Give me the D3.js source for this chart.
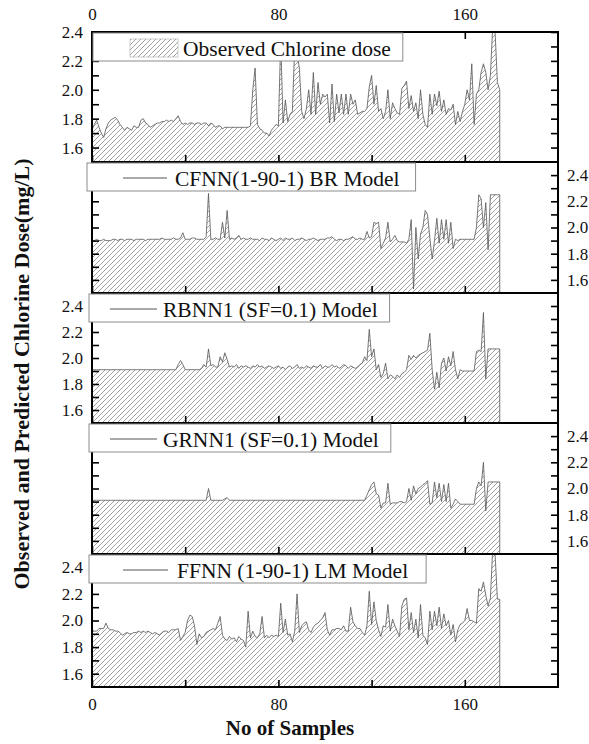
<!DOCTYPE html>
<html>
<head>
<meta charset="utf-8">
<script src="https://cdn.jsdelivr.net/npm/d3@7"></script>
<style>
  body { margin: 0; background: #fff; }
  svg { display: block; font-family: 'Liberation Serif', 'Times New Roman', serif; }
</style>
</head>
<body>
<svg id="chart" width="589" height="744"></svg>
<script>
// sample values, one per sample 0..175
const observed = [
  1.72,1.76,1.79,1.74,1.70,1.67,1.73,1.77,1.79,1.80,
  1.81,1.79,1.76,1.74,1.72,1.74,1.73,1.72,1.75,1.74,
  1.74,1.79,1.80,1.77,1.76,1.74,1.75,1.76,1.77,1.77,
  1.78,1.78,1.79,1.78,1.79,1.78,1.80,1.82,1.78,1.76,
  1.77,1.76,1.77,1.77,1.76,1.77,1.77,1.76,1.77,1.77,
  1.75,1.77,1.76,1.74,1.75,1.75,1.73,1.74,1.74,1.74,
  1.74,1.74,1.74,1.74,1.74,1.74,1.74,1.74,1.75,2.00,
  2.15,1.76,1.73,1.72,1.70,1.70,1.68,1.72,1.74,1.76,
  1.75,2.35,1.77,1.93,1.78,1.83,1.85,2.30,2.25,2.15,
  1.85,1.80,1.87,2.00,1.83,2.12,1.83,2.05,1.90,1.97,
  1.95,1.97,1.77,2.04,1.78,1.97,1.84,1.97,1.83,1.97,
  1.83,1.97,1.90,1.93,1.83,1.84,1.85,1.85,1.87,2.02,
  2.10,1.90,2.03,1.85,1.87,1.80,1.85,2.00,1.80,1.91,
  1.87,1.84,1.83,2.01,2.03,2.06,1.87,1.96,1.85,1.91,
  1.80,2.00,1.83,1.76,1.74,1.97,1.83,1.97,1.89,1.99,
  1.85,1.93,1.83,1.87,1.86,1.90,1.76,1.85,1.78,1.85,
  1.90,2.00,1.93,2.18,1.76,1.97,2.00,2.12,2.18,2.12,
  2.00,2.10,2.45,2.40,2.05,2.00
];
const cfnn = [
  1.90,1.90,1.91,1.90,1.90,1.91,1.90,1.90,1.90,1.91,
  1.91,1.90,1.91,1.91,1.90,1.91,1.91,1.91,1.90,1.91,
  1.91,1.91,1.91,1.90,1.91,1.91,1.91,1.91,1.91,1.91,
  1.92,1.91,1.91,1.91,1.91,1.92,1.91,1.91,1.92,1.96,
  1.91,1.91,1.91,1.92,1.92,1.91,1.91,1.91,1.91,1.93,
  2.26,1.91,1.91,1.92,1.91,1.91,2.04,1.92,2.13,1.91,
  1.92,1.91,1.92,1.94,1.91,1.92,1.91,1.91,1.92,1.91,
  1.91,1.91,1.90,1.92,1.91,1.91,1.90,1.92,1.91,1.90,
  1.91,1.92,1.90,1.92,1.91,1.91,1.92,1.90,1.91,1.91,
  1.92,1.91,1.90,1.91,1.91,1.92,1.91,1.90,1.91,1.91,
  1.91,1.92,1.92,1.93,1.91,1.90,1.91,1.91,1.90,1.91,
  1.91,1.92,1.93,1.91,1.91,1.92,1.91,1.91,1.97,1.92,
  1.93,2.04,2.03,2.04,1.84,1.88,1.92,2.04,1.89,1.91,
  1.94,1.90,1.89,1.89,1.89,1.88,1.91,2.06,1.53,2.00,
  1.76,1.95,2.00,2.13,2.10,1.92,1.76,1.90,2.07,1.88,
  2.06,1.91,2.06,1.88,2.04,1.84,1.91,1.90,1.91,1.91,
  1.91,1.91,1.91,1.91,1.91,2.00,2.25,2.22,2.00,2.19,
  1.83,2.25,2.25,2.25,2.25,2.25
];
const rbnn = [
  1.91,1.91,1.91,1.91,1.91,1.91,1.91,1.91,1.91,1.91,
  1.91,1.91,1.91,1.91,1.91,1.91,1.91,1.91,1.91,1.91,
  1.91,1.91,1.91,1.91,1.91,1.91,1.91,1.91,1.91,1.91,
  1.91,1.91,1.91,1.91,1.91,1.91,1.91,1.95,1.98,1.95,
  1.91,1.91,1.91,1.91,1.91,1.91,1.91,1.92,1.95,1.93,
  2.07,1.94,1.95,1.93,1.93,2.01,1.97,2.04,1.99,1.93,
  1.94,1.93,1.95,1.92,1.94,1.93,1.94,1.93,1.92,1.94,
  1.93,1.95,1.93,1.94,1.92,1.93,1.94,1.93,1.92,1.93,
  1.94,1.92,1.93,1.91,1.93,1.94,1.92,1.93,1.95,1.92,
  1.93,1.92,1.94,1.93,1.92,1.94,1.93,1.93,1.95,1.92,
  1.94,1.93,1.93,1.95,1.93,1.94,1.92,1.93,1.95,1.94,
  1.92,1.94,1.93,1.92,1.93,1.95,1.96,2.01,1.98,2.22,
  2.01,2.07,1.91,1.95,1.85,1.88,1.96,1.84,1.87,1.86,
  1.84,1.87,1.85,1.88,1.89,1.91,2.02,1.99,2.02,2.00,
  2.02,2.03,2.04,2.05,2.06,2.19,1.91,1.76,1.89,1.77,
  1.96,2.00,1.90,2.01,1.94,2.05,1.91,1.84,1.91,1.90,
  1.90,1.90,1.90,1.90,1.90,2.05,2.06,2.05,2.35,1.84,
  2.07,2.07,2.07,2.07,2.07,2.07
];
const grnn = [
  1.91,1.91,1.91,1.91,1.91,1.91,1.91,1.91,1.91,1.91,
  1.91,1.91,1.91,1.91,1.91,1.91,1.91,1.91,1.91,1.91,
  1.91,1.91,1.91,1.91,1.91,1.91,1.91,1.91,1.91,1.91,
  1.91,1.91,1.91,1.91,1.91,1.91,1.91,1.91,1.91,1.91,
  1.91,1.91,1.91,1.91,1.91,1.91,1.91,1.91,1.91,1.91,
  2.00,1.91,1.91,1.91,1.91,1.91,1.91,1.92,1.93,1.91,
  1.91,1.91,1.91,1.91,1.91,1.91,1.91,1.91,1.91,1.91,
  1.91,1.91,1.91,1.91,1.91,1.91,1.91,1.91,1.91,1.91,
  1.91,1.91,1.91,1.91,1.91,1.91,1.91,1.91,1.91,1.91,
  1.91,1.91,1.91,1.91,1.91,1.91,1.91,1.91,1.91,1.91,
  1.91,1.91,1.91,1.91,1.91,1.91,1.91,1.91,1.91,1.91,
  1.91,1.91,1.91,1.91,1.91,1.91,1.91,1.91,1.95,1.99,
  2.03,2.05,1.96,1.95,1.85,1.89,1.89,2.04,1.88,1.89,
  1.89,1.89,1.90,1.90,1.89,1.90,2.00,1.91,2.02,1.96,
  2.00,2.01,2.03,2.04,2.06,1.88,1.89,2.05,1.93,2.04,
  1.90,2.03,1.90,2.04,1.85,1.88,1.92,1.90,1.88,1.88,
  1.88,1.88,1.88,1.88,1.88,2.00,2.05,2.02,2.20,1.83,
  2.05,2.05,2.05,2.05,2.05,2.05
];
const ffnn = [
  1.93,1.92,1.92,1.94,1.94,1.94,1.98,1.94,1.93,1.93,
  1.92,1.92,1.91,1.89,1.90,1.91,1.90,1.90,1.91,1.91,
  1.92,1.91,1.92,1.91,1.92,1.91,1.90,1.91,1.90,1.89,
  1.91,1.92,1.92,1.91,1.93,1.93,1.93,1.94,1.85,1.88,
  1.91,2.00,2.04,2.03,1.96,1.82,1.90,1.87,1.88,1.91,
  1.92,1.93,1.94,1.93,1.98,2.03,1.89,1.86,1.85,1.88,
  1.86,1.87,1.84,1.88,1.86,1.85,1.80,2.07,1.87,1.92,
  1.88,1.87,1.90,2.03,1.87,1.89,1.87,1.89,1.88,1.89,
  1.88,2.13,1.91,2.01,1.89,1.90,1.84,1.92,2.20,1.91,
  1.96,1.98,1.99,1.93,1.91,1.95,1.97,1.98,2.00,2.02,
  2.06,1.93,1.89,1.93,1.93,1.94,1.94,1.93,1.96,1.92,
  1.92,2.10,1.99,1.96,1.94,1.94,1.91,1.89,1.96,2.22,
  1.97,2.14,2.00,1.93,1.88,1.96,1.95,2.12,1.92,2.01,
  1.96,1.92,1.88,2.11,2.16,2.17,1.93,2.06,1.91,2.01,
  1.87,2.12,1.89,1.87,1.82,2.07,1.93,2.07,1.96,2.10,
  1.94,2.05,1.96,2.00,1.89,1.97,1.84,1.93,1.97,1.98,
  2.00,2.09,2.00,2.00,1.99,1.98,2.24,2.22,2.29,2.19,
  2.11,2.17,2.55,2.50,2.16,2.16
];

const legendLabels = [
  'Observed Chlorine dose',
  'CFNN(1-90-1) BR Model',
  'RBNN1 (SF=0.1) Model',
  'GRNN1 (SF=0.1) Model',
  'FFNN (1-90-1) LM Model'
];
const yMaxes = [2.4, 2.5, 2.5, 2.5, 2.5];
const yTickValues = [1.6, 1.7, 1.8, 1.9, 2.0, 2.1, 2.2, 2.3, 2.4];
const yTickLabels = ['1.6', '1.8', '2.0', '2.2', '2.4'];
const xTickValues = [0, 40, 80, 120, 160];
const xTickLabels = [0, 80, 160];

const series = [observed, cfnn, rbnn, grnn, ffnn];

// layout
const panelEdges = [32, 162, 293, 423, 554, 687];
const labelSide = ['left', 'right', 'left', 'right', 'left'];
const boxX = [93, 87, 89, 89, 89];
const swatchX = [[130, 178], [123, 167], [110, 157], [110, 157], [123, 168]];
const textX = [183, 175, 163, 163, 177];
const boxPad = [12, 16, 12, 12, 18];

const svg = d3.select('#chart');
const x = d3.scaleLinear().domain([0, 200]).range([92, 558]);
const defs = svg.append('defs');

defs.append('pattern')
  .attr('id', 'hatch')
  .attr('patternUnits', 'userSpaceOnUse')
  .attr('width', 5)
  .attr('height', 5)
  .append('path')
  .attr('d', 'M-1,1 l2,-2 M0,5 l5,-5 M4,6 l2,-2')
  .attr('stroke', '#7a7a7a')
  .attr('stroke-width', 0.7);

const styleAxis = ($g) => {
  $g.select('.domain').remove();
  $g.selectAll('line').attr('stroke', '#000').attr('stroke-width', 1.6);
  $g.selectAll('text')
    .attr('font-family', "'Liberation Serif', 'Times New Roman', serif")
    .attr('font-size', 17)
    .attr('fill', '#111');
};

series.forEach((values, i) => {
  const top = panelEdges[i];
  const bottom = panelEdges[i + 1];
  const y = d3.scaleLinear().domain([1.5, yMaxes[i]]).range([bottom, top]);
  const $panel = svg.append('g').attr('class', 'panel');

  defs.append('clipPath').attr('id', 'clip' + i)
    .append('rect')
    .attr('x', x(0))
    .attr('y', top)
    .attr('width', x(200) - x(0))
    .attr('height', bottom - top);

  const area = d3.area()
    .x((d, j) => x(j))
    .y0(bottom)
    .y1((d) => y(d));

  $panel.append('path')
    .datum(values)
    .attr('clip-path', 'url(#clip' + i + ')')
    .attr('d', area)
    .attr('fill', 'url(#hatch)')
    .attr('stroke', '#555')
    .attr('stroke-width', 0.8);

  // y axes, ticks pointing inward on both sides
  const ticks = yTickValues.filter((v) => v <= yMaxes[i] + 1e-9);
  const fmt = (d) => yTickLabels.includes(d.toFixed(1)) ? d.toFixed(1) : '';
  const left = d3.axisLeft(y).tickValues(ticks).tickSize(-7).tickPadding(9)
    .tickFormat(labelSide[i] === 'left' ? fmt : () => '');
  const right = d3.axisRight(y).tickValues(ticks).tickSize(-7).tickPadding(9)
    .tickFormat(labelSide[i] === 'right' ? fmt : () => '');
  $panel.append('g').attr('transform', `translate(${x(0)},0)`).call(left).call(styleAxis);
  $panel.append('g').attr('transform', `translate(${x(200)},0)`).call(right).call(styleAxis);

  // x ticks along the bottom edge of each panel
  const bottomAxis = d3.axisBottom(x).tickValues(xTickValues).tickSize(-7).tickPadding(11)
    .tickFormat((d) => (i === 4 && xTickLabels.includes(d)) ? d : '');
  $panel.append('g').attr('transform', `translate(0,${bottom})`).call(bottomAxis).call(styleAxis);

  if (i === 0) {
    const topAxis = d3.axisTop(x).tickValues(xTickValues).tickSize(-7).tickPadding(12)
      .tickFormat((d) => xTickLabels.includes(d) ? d : '');
    $panel.append('g').attr('transform', `translate(0,${top})`).call(topAxis).call(styleAxis);
  }

  $panel.append('rect')
    .attr('x', x(0))
    .attr('y', top)
    .attr('width', x(200) - x(0))
    .attr('height', bottom - top)
    .attr('fill', 'none')
    .attr('stroke', '#000')
    .attr('stroke-width', 2);
});

// legends, drawn on top of the panels
series.forEach((values, i) => {
  const top = panelEdges[i] + 1;
  const $leg = svg.append('g').attr('class', 'legend');
  const $box = $leg.append('rect')
    .attr('x', boxX[i])
    .attr('y', top)
    .attr('height', 28)
    .attr('fill', '#fff')
    .attr('stroke', '#8c8c8c')
    .attr('stroke-width', 1);

  if (i === 0) {
    $leg.append('rect')
      .attr('x', swatchX[i][0])
      .attr('y', top + 6)
      .attr('width', swatchX[i][1] - swatchX[i][0])
      .attr('height', 18)
      .attr('fill', 'url(#hatch)')
      .attr('stroke', '#aaa')
      .attr('stroke-width', 0.6);
  } else {
    $leg.append('line')
      .attr('x1', swatchX[i][0])
      .attr('x2', swatchX[i][1])
      .attr('y1', top + 15)
      .attr('y2', top + 15)
      .attr('stroke', '#555')
      .attr('stroke-width', 1);
  }

  const $text = $leg.append('text')
    .attr('x', textX[i])
    .attr('y', top + 23)
    .attr('font-size', 21.5)
    .attr('fill', '#111')
    .text(legendLabels[i]);

  const w = $text.node().getComputedTextLength();
  $box.attr('width', textX[i] + w + boxPad[i] - boxX[i]);
});

svg.append('text')
  .attr('x', 290)
  .attr('y', 735)
  .attr('text-anchor', 'middle')
  .attr('font-size', 21)
  .attr('font-weight', 'bold')
  .attr('fill', '#111')
  .text('No of Samples');

svg.append('text')
  .attr('transform', 'translate(29,374) rotate(-90)')
  .attr('text-anchor', 'middle')
  .attr('font-size', 22)
  .attr('font-weight', 'bold')
  .attr('fill', '#111')
  .text('Observed and Predicted Chlorine Dose(mg/L)');
</script>
</body>
</html>
